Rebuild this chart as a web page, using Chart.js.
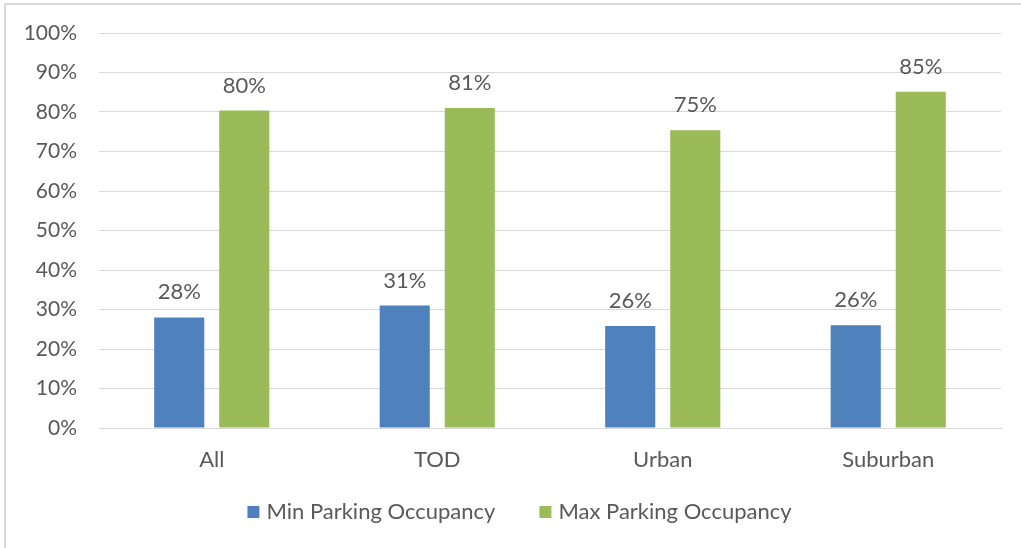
<!DOCTYPE html>
<html>
<head>
<meta charset="utf-8">
<script src="https://cdn.jsdelivr.net/npm/chart.js"></script>
<style>
  body { margin: 0; background: #ffffff; overflow: hidden; }
  #frame {
    position: absolute; left: 4px; top: 3px;
    width: 1031px; height: 560px;
    border: 2px solid #d9d9d9; box-sizing: border-box;
  }
  #chart { display: block; }
</style>
</head>
<body>
<div id="frame"><canvas id="chart"></canvas></div>
<script>
// Catégories et valeurs (en %)
const categories = ['All', 'TOD', 'Urban', 'Suburban'];
const minOccupancy = [28, 31, 25.8, 26];
const maxOccupancy = [80.4, 81, 75.4, 85.1];
const yTicks = [0, 10, 20, 30, 40, 50, 60, 70, 80, 90, 100];

const textColor = '#595959';
const fontFamily = "Lato, 'Open Sans', sans-serif";
const fontSize = 22;

// Étiquettes de valeur au-dessus des barres
const valueLabels = {
    id: 'valueLabels',
    afterDatasetsDraw(chart) {
        const ctx = chart.ctx;
        ctx.save();
        ctx.fillStyle = textColor;
        ctx.font = fontSize + 'px ' + fontFamily;
        ctx.textAlign = 'center';
        ctx.textBaseline = 'middle';
        chart.data.datasets.forEach((ds, i) => {
            chart.getDatasetMeta(i).data.forEach((bar, j) => {
                ctx.fillText(Math.round(ds.data[j]) + '%', bar.x, bar.y - 25);
            });
        });
        ctx.restore();
    }
};

// Légende dessinée à la main (espacement type Excel)
const bottomLegend = {
    id: 'bottomLegend',
    afterDraw(chart) {
        const ctx = chart.ctx;
        ctx.save();
        ctx.font = fontSize + 'px ' + fontFamily;
        ctx.textBaseline = 'middle';
        const box = 12, gapText = 7, gapItem = 44;
        const items = chart.data.datasets.map(ds => ({
            text: ds.label, color: ds.backgroundColor, w: ctx.measureText(ds.label).width
        }));
        let total = 0;
        items.forEach((it, i) => { total += box + gapText + it.w + (i ? gapItem : 0); });
        let x = chart.width / 2 - total / 2;
        const y = 507;
        items.forEach(it => {
            ctx.fillStyle = it.color;
            ctx.fillRect(x, y - box / 2, box, box);
            x += box + gapText;
            ctx.fillStyle = textColor;
            ctx.fillText(it.text, x, y);
            x += it.w + gapItem;
        });
        ctx.restore();
    }
};

const frame = document.getElementById('frame');
const canvas = document.getElementById('chart');
canvas.width = frame.clientWidth;
canvas.height = frame.clientHeight;

new Chart(canvas, {
    type: 'bar',
    data: {
        labels: categories,
        datasets: [
            {
                label: 'Min Parking Occupancy',
                data: minOccupancy,
                backgroundColor: '#4f81bd',
                categoryPercentage: 0.577,
                barPercentage: 0.77
            },
            {
                label: 'Max Parking Occupancy',
                data: maxOccupancy,
                backgroundColor: '#9bbb59',
                categoryPercentage: 0.577,
                barPercentage: 0.77
            }
        ]
    },
    options: {
        responsive: false,
        animation: false,
        layout: { padding: { left: 0, right: canvas.width - 995, top: 28, bottom: canvas.height - 423 - 60 } },
        plugins: {
            legend: { display: false },
            tooltip: { enabled: false }
        },
        scales: {
            x: {
                afterFit(axis) { axis.height = 60; axis.paddingLeft = 0; axis.paddingRight = 0; },
                grid: { display: false, drawTicks: false },
                border: { color: '#d9d9d9' },
                ticks: { color: textColor, font: { family: fontFamily, size: fontSize }, padding: 19 }
            },
            y: {
                min: 0,
                max: 100,
                afterBuildTicks(axis) { axis.ticks = yTicks.map(v => ({ value: v })); },
                afterFit(axis) { axis.width = 93; axis.paddingTop = 0; axis.paddingBottom = 0; },
                grid: { color: '#d9d9d9', drawTicks: false },
                border: { display: false },
                ticks: {
                    color: textColor,
                    font: { family: fontFamily, size: 21 },
                    padding: 22,
                    callback: v => v + '%'
                }
            }
        }
    },
    plugins: [valueLabels, bottomLegend]
});
</script>
</body>
</html>
